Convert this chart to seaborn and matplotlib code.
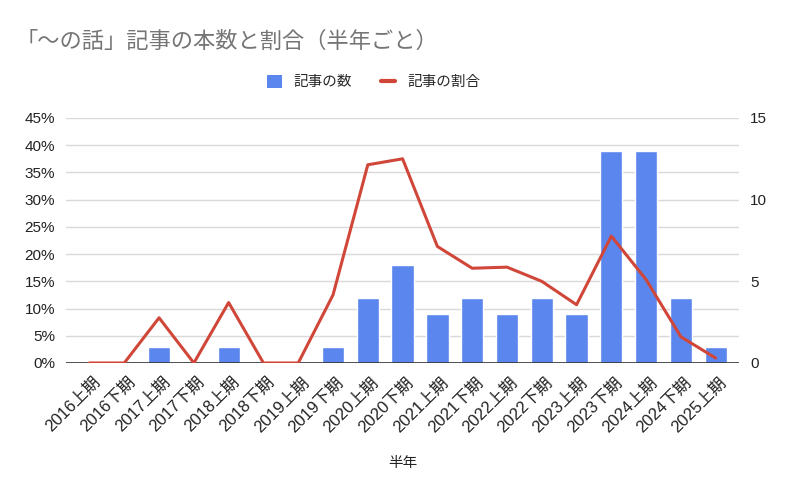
import numpy as np
import pandas as pd
import seaborn as sns
import matplotlib.pyplot as plt
from matplotlib.lines import Line2D
from matplotlib.patches import Patch
from matplotlib.ticker import PercentFormatter
from matplotlib.transforms import ScaledTranslation

# Data (half-year periods)
periods = ['2016上期', '2016下期', '2017上期', '2017下期', '2018上期', '2018下期',
           '2019上期', '2019下期', '2020上期', '2020下期', '2021上期', '2021下期',
           '2022上期', '2022下期', '2023上期', '2023下期', '2024上期', '2024下期',
           '2025上期']
article_counts = [0, 0, 1, 0, 1, 0, 0, 1, 4, 6, 3, 4, 3, 4, 3, 13, 13, 4, 1]
article_share = [0.0, 0.0, 8.3, 0.0, 11.1, 0.0, 0.0, 12.5, 36.4, 37.5, 21.4, 17.4,
                 17.6, 15.0, 10.7, 23.3, 15.3, 4.8, 0.9]

df = pd.DataFrame({'period': periods, 'count': article_counts, 'share': article_share})

blue = '#5b86ee'
red = '#d0473a'

sns.set_theme(style="white")
plt.rcParams['font.family'] = ['Liberation Sans', 'Noto Sans CJK JP', 'DejaVu Sans']

fig = plt.figure(figsize=(8, 4.95), dpi=100)
ax = fig.add_axes([0.0825, 0.2667, 0.8415, 0.495])

# Bars (count) -> right axis
sns.barplot(data=df, x='period', y='count', order=periods, color=blue,
            width=0.64, saturation=1, ax=ax, zorder=2)

# Line (share) -> left axis, drawn on top
ax2 = ax.twinx()
sns.lineplot(x=np.arange(len(periods)), y=df['share'], color=red, linewidth=2.2, ax=ax2)

ax.set_ylim(0, 15)
ax.set_xlim(-0.675, len(periods) - 1 + 0.675)
ax.yaxis.tick_right()
ax.set_yticks([0, 5, 10, 15])
ax.set_yticks(np.linspace(0, 15, 10), minor=True)
ax.grid(True, axis='y', which='both', color='#d9d9d9', linewidth=1, zorder=0)
ax.set_axisbelow(True)
ax.tick_params(axis='y', which='both', length=0, labelsize=11, colors='#222222', pad=8,
               left=False, labelleft=False, right=True, labelright=True)
ax.tick_params(axis='x', length=0, labelsize=12, colors='#222222', pad=12)
offset = ScaledTranslation(6 / 72, 0, fig.dpi_scale_trans)
for lab in ax.get_xticklabels():
    lab.set_rotation(45)
    lab.set_ha('right')
    lab.set_va('center')
    lab.set_rotation_mode('anchor')
    lab.set_transform(lab.get_transform() + offset)
ax.set_ylabel('')
ax.set_xlabel('半年', fontsize=10.5, color='#222222', labelpad=15)
for s in ax.spines.values():
    s.set_visible(False)
ax.axhline(0, color='#333333', linewidth=1.2, zorder=5)

ax2.set_ylim(0, 45)
ax2.set_yticks(np.arange(0, 46, 5))
ax2.yaxis.set_major_formatter(PercentFormatter(decimals=0))
ax2.tick_params(axis='y', length=0, labelsize=11, colors='#222222', pad=8,
                left=True, labelleft=True, right=False, labelright=False)
ax2.set_ylabel('')
ax2.grid(False)
for s in ax2.spines.values():
    s.set_visible(False)

fig.text(0.02, 0.915, '「〜の話」記事の本数と割合（半年ごと）', fontsize=16,
         color='#757575', ha='left', va='center')

handles = [Patch(facecolor=blue, edgecolor='none'),
           Line2D([0], [0], color=red, linewidth=3)]
fig.legend(handles, ['記事の数', '記事の割合'], loc='center', bbox_to_anchor=(0.467, 0.834),
           ncol=2, frameon=False, fontsize=10.5, handlelength=1.0, handleheight=1.0,
           columnspacing=2.0, handletextpad=0.8)

plt.savefig('out.png', dpi=100)
